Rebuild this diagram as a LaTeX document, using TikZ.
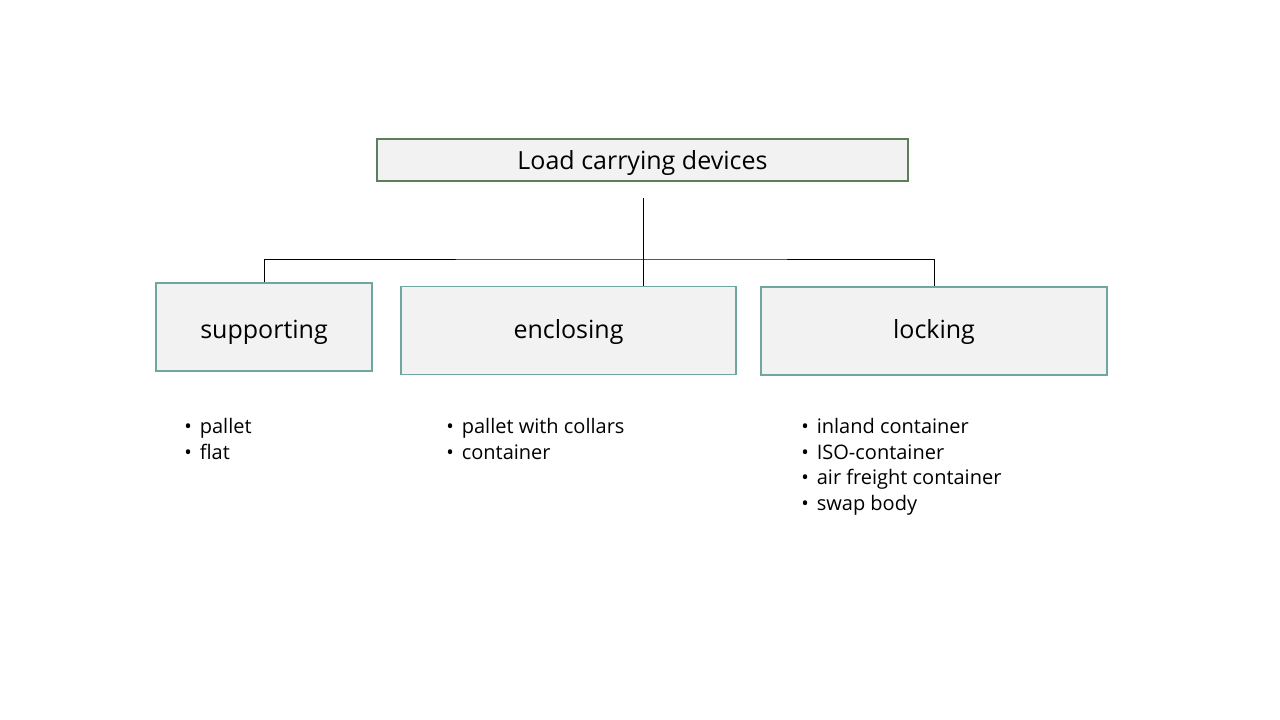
\documentclass[tikz,border=0pt]{standalone}
\usepackage{fontspec}
\setmainfont{Open Sans}
\usepackage{tikz}
\usetikzlibrary{positioning,calc}
\definecolor{titleline}{HTML}{5B7F5B}
\definecolor{boxline}{HTML}{6FA7A0}
\definecolor{boxfill}{HTML}{F2F2F2}

\begin{document}
\begin{tikzpicture}[x=1pt, y=-1pt, semithick]
        \tikzstyle{head}=[rectangle, draw=titleline, fill=boxfill, line width=1.5pt, minimum width=531pt, minimum height=42pt, inner sep=0pt, text height=19.5pt, text depth=0pt, font=\fontsize{25}{30}\selectfont]
        \tikzstyle{group}=[rectangle, draw=boxline, fill=boxfill, line width=1.5pt, minimum height=88pt, inner sep=0pt, text height=15pt, text depth=0pt, font=\fontsize{25}{30}\selectfont]
        \tikzstyle{items}=[anchor=north west, align=left, inner sep=0pt, font=\fontsize{20}{25.7}\selectfont]
        \useasboundingbox (0,0) rectangle (1280,720);
        \node[head]                        (devices)    at (642.5,160) {Load carrying devices};
        \node[group, minimum width=216pt, text height=23pt] (supporting) at (264,327) {supporting};
        \node[group, minimum width=335pt]  (enclosing)  at (568.5,330.5) {enclosing};
        \node[group, minimum width=346pt]  (locking)    at (934,331)   {locking};
        \coordinate (trunk) at (643,198);
        \coordinate (hub)   at (643,259);
        % tree lines
        \draw (trunk) -- (trunk |- enclosing.north);
        \draw (supporting.north) |- (hub) -| (locking.north);
        % lists below the boxes
        \node[items] (supportlist) at (184,418) {\textbullet\hspace{8pt}pallet\\ \textbullet\hspace{8pt}flat};
        \node[items] (encloselist) at (446,418) {\textbullet\hspace{8pt}pallet with collars\\ \textbullet\hspace{8pt}container};
        \node[items] (locklist)    at (801,418) {\textbullet\hspace{8pt}inland container\\ \textbullet\hspace{8pt}ISO-container\\ \textbullet\hspace{8pt}air freight container\\ \textbullet\hspace{8pt}swap body};
\end{tikzpicture}
\end{document}
